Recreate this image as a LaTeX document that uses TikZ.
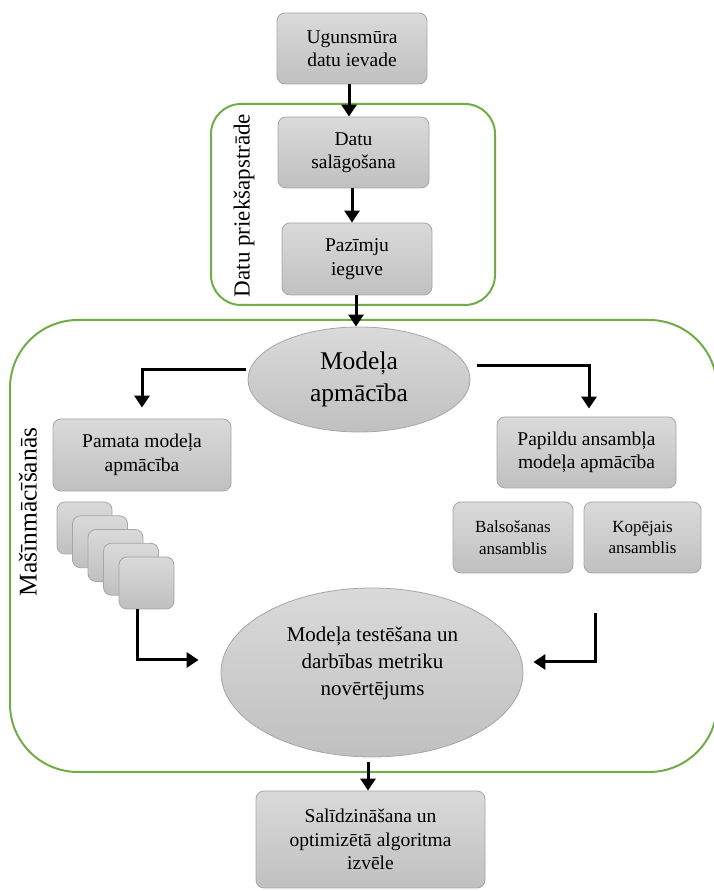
\documentclass[tikz,border=0pt]{standalone}
\usepackage{fontspec}
\setmainfont{Liberation Serif}
\usetikzlibrary{arrows.meta,shapes.geometric}

\definecolor{grp}{HTML}{70AD47}
\definecolor{boxedge}{HTML}{A6A6A6}
\definecolor{boxtop}{HTML}{DADADA}
\definecolor{boxbot}{HTML}{C0C0C0}

\tikzset{
  stepbox/.style={draw=boxedge, line width=0.8pt, rounded corners=8pt,
    top color=boxtop, bottom color=boxbot, align=center, inner sep=0pt,
    font=\fontsize{19.5}{23.5}\selectfont},
  smallbox/.style={stepbox, font=\fontsize{17}{21.5}\selectfont},
  blob/.style={ellipse, draw=boxedge, line width=0.8pt,
    top color=boxtop, bottom color=boxbot, inner sep=0pt, align=center},
  group/.style={draw=grp, line width=2pt},
  grouplabel/.style={rotate=90, inner sep=0pt},
  arr/.style={line width=3pt, -{Triangle[width=15pt,length=12pt]}},
}

\begin{document}
\begin{tikzpicture}[x=1pt,y=1pt]
\useasboundingbox (0,0) rectangle (714,891);

% group frames
\draw[group, rounded corners=30pt] (211,787) rectangle (495,586);
\draw[group, rounded corners=68pt] (10,571) rectangle (717,119);
\node[grouplabel, font=\fontsize{23}{27}\selectfont] (prepl) at (244,685.5) {Datu priekšapstrāde};
\node[grouplabel, font=\fontsize{25.5}{30}\selectfont] (mll) at (28,379) {Mašīnmācīšanās};

% preprocessing chain
\node[stepbox, minimum width=150pt, minimum height=71pt] (fw) at (352,842.5) {Ugunsmūra\\datu ievade};
\node[stepbox, minimum width=151pt, minimum height=71pt] (align) at (353.5,738.5) {Datu\\salāgošana};
\node[stepbox, minimum width=150pt, minimum height=72pt] (feat) at (357,632) {Pazīmju\\ieguve};

% training
\node[blob, minimum width=222pt, minimum height=105pt, font=\fontsize{25.5}{32}\selectfont] (train) at (359,511.5) {Modeļa\\apmācība};
\node[stepbox, minimum width=178pt, minimum height=72pt] (base) at (142,436) {Pamata modeļa\\apmācība};
\node[stepbox, minimum width=179pt, minimum height=71pt] (ens) at (586.5,438.5) {Papildu ansambļa\\modeļa apmācība};
\node[smallbox, minimum width=120pt, minimum height=71pt] (vote) at (513,353.5) {Balsošanas\\ansamblis};
\node[smallbox, minimum width=117pt, minimum height=71pt] (stack) at (642.5,353.5) {Kopējais\\ansamblis};

% stack of base models
\foreach \k in {0,...,4}
  \node[stepbox, minimum width=55pt, minimum height=52pt] (s\k) at ({84.5+15.5*\k},{363-13.75*\k}) {};

% evaluation and selection
\node[blob, minimum width=302pt, minimum height=169pt] (eval) at (372,218.5) {};
\node[align=center, inner sep=0pt, font=\fontsize{21}{27}\selectfont] (evaltext) at (372.5,228) {Modeļa testēšana un\\darbības metriku\\novērtējums};
\node[stepbox, minimum width=229pt, minimum height=97pt] (select) at (370.5,51.5) {Salīdzināšana un\\optimizētā algoritma\\izvēle};

% connectors
\draw[arr] ([xshift=-3pt]fw.south) -- ([xshift=-3pt]fw.south |- align.north);
\draw[arr] ([xshift=-1.5pt]align.south) -- ([xshift=-1.5pt]align.south |- feat.north);
\draw[arr] ([xshift=-1pt]feat.south) -- ([xshift=-1pt]feat.south |- train.north);
\draw[arr] ([shift={(-2pt,10pt)}]train.west) -| ([yshift=11pt]base.north);
\draw[arr] ([shift={(7pt,13.5pt)}]train.east) -| ([shift={(2.5pt,8pt)}]ens.north);
\draw[arr] ([xshift=-9.5pt]s4.south) |- ([shift={(-22pt,12.5pt)}]eval.west);
\coordinate (ensout) at ([shift={(-47.5pt,-39.5pt)}]stack.south);
\draw[arr] (ensout) |- ([shift={(10pt,10.5pt)}]eval.east);
\draw[arr] ([shift={(-4pt,-5pt)}]eval.south) -- ([xshift=-4pt]eval.south |- select.north);
\end{tikzpicture}
\end{document}
